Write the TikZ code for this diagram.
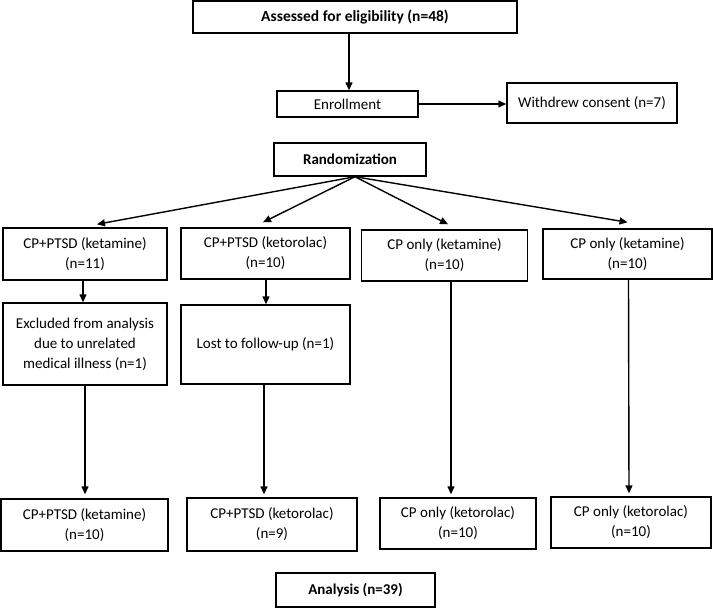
\documentclass[tikz,border=0pt]{standalone}
\usepackage{fontspec}
\setmainfont{Carlito}
\usetikzlibrary{arrows.meta,positioning}

\begin{document}
\begin{tikzpicture}[x=1pt, y=-1pt,
  font=\fontsize{15}{20}\selectfont,
  box/.style={draw=black, line width=1.4pt, fill=white, inner sep=0pt, align=center},
  arr/.style={-{Triangle[length=8pt,width=7pt]}, line width=1.4pt}]
  \useasboundingbox (0,0) rectangle (713,608);
  % top
  \node[box, minimum width=324pt, minimum height=32pt, font=\fontsize{15.5}{20}\selectfont\bfseries] (assess) at (355,17) {Assessed for eligibility (n=48)};
  \node[box, minimum width=141pt, minimum height=26pt] (enroll) at (347.5,104) {Enrollment};
  \node[box, minimum width=170pt, minimum height=40pt] (withdrew) at (592,103) {Withdrew consent (n=7)};
  \node[box, minimum width=152pt, minimum height=33pt, font=\fontsize{15}{20}\selectfont\bfseries] (rand) at (350,159.5) {Randomization};
  % groups
  \node[box, minimum width=164pt, minimum height=52pt] (grpA) at (85,254) {CP+PTSD (ketamine)\\(n=11)};
  \node[box, minimum width=169pt, minimum height=51pt] (grpB) at (265.5,253.5) {CP+PTSD (ketorolac)\\(n=10)};
  \node[box, minimum width=166pt, minimum height=51pt] (grpC) at (444.5,255.5) {CP only (ketamine)\\(n=10)};
  \node[box, minimum width=169pt, minimum height=50pt] (grpD) at (627.5,254) {CP only (ketamine)\\(n=10)};
  % losses
  \node[box, minimum width=164pt, minimum height=82pt] (exclA) at (85,344) {Excluded from analysis\\due to unrelated\\medical illness (n=1)};
  \node[box, minimum width=169pt, minimum height=79pt] (lostB) at (265.5,344.5) {Lost to follow-up (n=1)};
  % analysed
  \node[box, minimum width=167pt, minimum height=52pt] (finA) at (84.5,525) {CP+PTSD (ketamine)\\(n=10)};
  \node[box, minimum width=170pt, minimum height=53pt] (finB) at (272,524.5) {CP+PTSD (ketorolac)\\(n=9)};
  \node[box, minimum width=156pt, minimum height=51pt] (finC) at (458,523.5) {CP only (ketorolac)\\(n=10)};
  \node[box, minimum width=160pt, minimum height=51pt] (finD) at (631,522.5) {CP only (ketorolac)\\(n=10)};
  \node[box, minimum width=159pt, minimum height=34pt, font=\fontsize{15}{20}\selectfont\bfseries] (anal) at (355.5,590) {Analysis (n=39)};

  \draw[arr] ([xshift=1.5pt]enroll.north |- assess.south) -- ([xshift=1.5pt]enroll.north);
  \draw[arr] (enroll.east) -- (withdrew.west |- enroll.east);
  \coordinate (split) at ([xshift=5pt]rand.south);
  \draw[arr] (split) -- ([xshift=12pt,yshift=3pt]grpA.north);
  \draw[arr] (split) -- ([xshift=-2.5pt,yshift=5pt]grpB.north);
  \draw[arr] (split) -- ([xshift=3.5pt,yshift=5pt]grpC.north);
  \draw[arr] (split) -- ([yshift=6pt]grpD.north);
  \draw[arr] ([xshift=-2pt]grpA.south) -- ([xshift=-2pt]exclA.north);
  \draw[arr] ([xshift=0.5pt]grpB.south) -- ([xshift=0.5pt]lostB.north);
  \draw[arr] (exclA.south) -- ([xshift=0.5pt,yshift=4pt]finA.north);
  \draw[arr] ([xshift=-1.5pt]lostB.south) -- ([xshift=-8pt,yshift=3pt]finB.north);
  \draw[arr] ([xshift=6.5pt]grpC.south) -- ([xshift=-7pt,yshift=3pt]finC.north);
  \draw[arr] ([xshift=1pt]grpD.south) -- ([xshift=-2pt,yshift=3pt]finD.north);
\end{tikzpicture}
\end{document}
